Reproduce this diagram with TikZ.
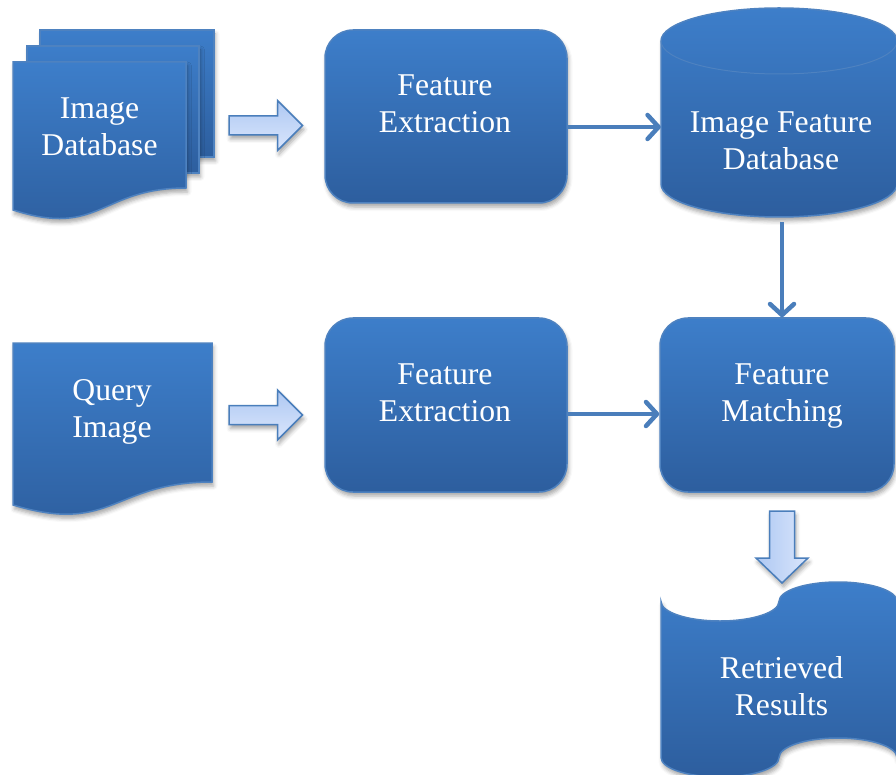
\documentclass[tikz,border=0pt]{standalone}
\usepackage{fontspec}
\setmainfont{Liberation Serif}
\usetikzlibrary{arrows.meta,shadows.blur}

\definecolor{fillTop}{RGB}{61,126,202}
\definecolor{fillBot}{RGB}{45,94,158}
\definecolor{edgeBlue}{RGB}{78,130,192}
\definecolor{lineBlue}{RGB}{74,126,187}
\definecolor{arrTop}{RGB}{174,200,242}
\definecolor{arrBot}{RGB}{218,230,252}

\begin{document}
\begin{tikzpicture}[x=1pt,y=-1pt,
  softshadow/.style={blur shadow={shadow xshift=1.5pt,shadow yshift=-4pt,
      shadow blur radius=4pt,shadow opacity=35}},
  shp/.style={top color=fillTop,bottom color=fillBot,draw=edgeBlue,
      line width=1.5pt,softshadow},
  procbox/.style={shp,rounded corners=28pt,inner sep=0pt},
  hold/.style={inner sep=0pt},
  blockarrow/.style={draw=lineBlue,line width=1.5pt,line join=miter,softshadow},
  lbl/.style={text=white,inner sep=0pt,anchor=base,
      font=\fontsize{31.7}{37}\selectfont},
  conn/.style={draw=lineBlue,line width=4.5pt,
      -{Straight Barb[length=11pt,width=24pt,round]}}]

\useasboundingbox (0,0) rectangle (896,775);

% ---------- Image database (stack of pages) ----------
\node[hold,minimum width=173pt,minimum height=150pt] (imgdb) at (99.5,137) {};
\path[shp] (40,30) rectangle (214,157);
\path[shp] (27,46) rectangle (199,173);
\path[shp] (13,62) -- (186,62) -- (186,188)
  .. controls (100,188) and (100,238) .. (13,210) -- cycle;
\node[lbl] (imgdbtxt) at (99.5,119)
  {\begin{tabular}[t]{@{}c@{}}Image\\Database\end{tabular}};

% ---------- Query image (single page) ----------
\node[hold,minimum width=199pt,minimum height=170pt] (qimg) at (112.5,428) {};
\path[shp] (13,343) -- (212,343) -- (212,482)
  .. controls (112.5,482) and (112.5,535) .. (13,505) -- cycle;
\node[lbl] (qimgtxt) at (112,400)
  {\begin{tabular}[t]{@{}c@{}}Query\\Image\end{tabular}};

% ---------- Feature extraction boxes ----------
\node[procbox,minimum width=242pt,minimum height=173pt] (fe1) at (446,116.5) {};
\node[lbl] (fe1txt) at (445,96)
  {\begin{tabular}[t]{@{}c@{}}Feature\\Extraction\end{tabular}};

\node[procbox,minimum width=242pt,minimum height=174pt] (fe2) at (446,405) {};
\node[lbl] (fe2txt) at (445,384)
  {\begin{tabular}[t]{@{}c@{}}Feature\\Extraction\end{tabular}};

% ---------- Feature matching ----------
\node[procbox,minimum width=234pt,minimum height=174pt] (fm) at (777,405) {};
\node[lbl] (fmtxt) at (782,384)
  {\begin{tabular}[t]{@{}c@{}}Feature\\Matching\end{tabular}};

% ---------- Image feature database (cylinder) ----------
\node[hold,minimum width=236pt,minimum height=209pt] (cyl) at (779,112.5) {};
\path[shp] (661,41) -- (661,184)
  .. controls (661,202.2) and (713.8,217) .. (779,217)
  .. controls (844.2,217) and (897,202.2) .. (897,184)
  -- (897,41)
  .. controls (897,22.8) and (844.2,8) .. (779,8)
  .. controls (713.8,8) and (661,22.8) .. (661,41) -- cycle;
\draw[edgeBlue,line width=1pt] (661,41)
  .. controls (661,59.2) and (713.8,74) .. (779,74)
  .. controls (844.2,74) and (897,59.2) .. (897,41);
\node[lbl] (cyltxt) at (781,133)
  {\begin{tabular}[t]{@{}c@{}}Image Feature\\Database\end{tabular}};

% ---------- Retrieved results (punched tape) ----------
\node[hold,minimum width=236pt,minimum height=195pt] (rr) at (779,679.5) {};
\path[shp] (661,601.5)
  .. controls (661,612.3) and (687.4,621) .. (720,621)
  .. controls (752.6,621) and (779,612.3) .. (779,601.5)
  .. controls (779,590.7) and (805.4,582) .. (838,582)
  .. controls (870.6,582) and (897,590.7) .. (897,601.5)
  -- (897,757.5)
  .. controls (897,746.7) and (870.6,738) .. (838,738)
  .. controls (805.4,738) and (779,746.7) .. (779,757.5)
  .. controls (779,768.3) and (752.6,777) .. (720,777)
  .. controls (687.4,777) and (661,768.3) .. (661,757.5) -- cycle;
\node[lbl] (rrtxt) at (781.5,678)
  {\begin{tabular}[t]{@{}c@{}}Retrieved\\Results\end{tabular}};

% ---------- Block arrows ----------
\path[blockarrow,top color=arrTop,bottom color=arrBot]
  (229,116) -- (277.5,116) -- (277.5,100.5) -- (302.5,125.5)
  -- (277.5,150.5) -- (277.5,135) -- (229,135) -- cycle;
\path[blockarrow,top color=arrTop,bottom color=arrBot]
  (229,405.5) -- (277.5,405.5) -- (277.5,390) -- (302.5,415)
  -- (277.5,440) -- (277.5,424.5) -- (229,424.5) -- cycle;
\path[blockarrow,left color=arrTop,right color=arrBot]
  (769.5,511) -- (794.5,511) -- (794.5,558) -- (808,558) -- (782,583)
  -- (756,558) -- (769.5,558) -- cycle;

% ---------- Connectors ----------
\coordinate (a1) at ([yshift=-10.5pt]fe1.east);
\draw[conn] (a1) -- (a1 -| cyl.west);
\coordinate (a2) at ([yshift=-9pt]fe2.east);
\draw[conn] (a2) -- (a2 -| fm.west);
\coordinate (a3) at ([xshift=3pt,yshift=-5pt]cyl.south);
\draw[conn] (a3) -- (a3 |- fm.north);

\end{tikzpicture}
\end{document}
